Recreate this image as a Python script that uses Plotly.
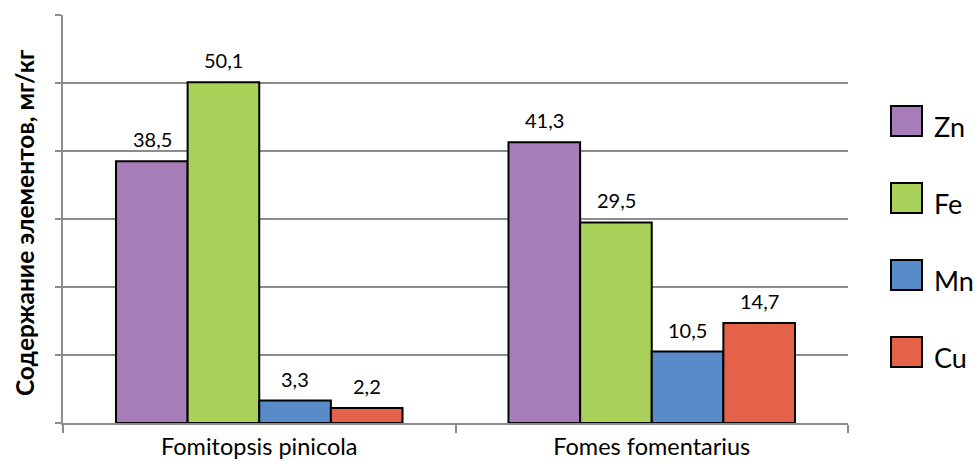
import plotly.graph_objects as go

categories = ["Fomitopsis pinicola", "Fomes fomentarius"]
series_names = ["Zn", "Fe", "Mn", "Cu"]
series_values = {
    "Zn": [38.5, 41.3],
    "Fe": [50.1, 29.5],
    "Mn": [3.3, 10.5],
    "Cu": [2.2, 14.7],
}
colors = {"Zn": "#A67DB8", "Fe": "#A9D159", "Mn": "#588BC8", "Cu": "#E5614A"}
y_title = "Содержание элементов, мг/кг"

FONT = "Lato"
GRID = "#8c8c8c"

plot_w = 785.0
plot_h = 408.0
bar_px = 71.5

fig = go.Figure()
annotations = []
n = len(series_names)
for i, name in enumerate(series_names):
    fig.add_trace(go.Bar(
        x=categories, y=series_values[name], name=name,
        marker=dict(color=colors[name], line=dict(color="black", width=2)),
        showlegend=False,
    ))
    # value labels above bars
    for cat, val in zip(categories, series_values[name]):
        annotations.append(dict(
            x=cat, y=val, xref="x", yref="y",
            text=f"{val:.1f}".replace(".", ","), showarrow=False,
            xanchor="center", yanchor="middle",
            xshift=(i - (n - 1) / 2) * bar_px, yshift=22,
            font=dict(family=FONT, size=20, color="black"),
        ))

# manual legend (large square swatches like the original)
shapes = []
for i, name in enumerate(series_names):
    yc = 0.740 - i * (77 / plot_h)
    half = 15 / plot_h
    shapes.append(dict(type="rect", xref="paper", yref="paper",
                       x0=(891 - 63) / plot_w, x1=(922 - 63) / plot_w,
                       y0=yc - half, y1=yc + half,
                       fillcolor=colors[name], line=dict(color="black", width=2)))
    annotations.append(dict(xref="paper", yref="paper", x=(932 - 63) / plot_w,
                            y=yc - 5 / plot_h,
                            text=name, showarrow=False, xanchor="left", yanchor="middle",
                            font=dict(family=FONT, size=27, color="black")))

annotations.append(dict(xref="paper", yref="paper", x=(24 - 63) / plot_w, y=0.49,
                        text="<b>" + y_title + "</b>", textangle=-90, showarrow=False,
                        xanchor="center", yanchor="middle",
                        font=dict(family=FONT, size=24.5, color="black")))

fig.update_layout(
    width=979, height=466,
    margin=dict(l=63, r=131, t=15, b=43),
    paper_bgcolor="white", plot_bgcolor="white",
    barmode="group", bargap=0.27, bargroupgap=0,
    separators=", ",
    font=dict(family=FONT, color="black"),
    shapes=shapes, annotations=annotations,
    xaxis=dict(showgrid=False, showline=True, linecolor=GRID, linewidth=2,
               ticks="outside", tickson="boundaries", ticklen=8, tickwidth=2,
               tickcolor=GRID, ticklabelstandoff=2, automargin=False,
               tickfont=dict(family=FONT, size=23.5, color="black")),
    yaxis=dict(range=[0, 60], dtick=10, showticklabels=False, automargin=False,
               showgrid=True, gridcolor=GRID, gridwidth=2,
               showline=True, linecolor=GRID, linewidth=2,
               ticks="outside", ticklen=6, tickwidth=2, tickcolor=GRID,
               zeroline=False),
    showlegend=False,
)

fig.write_html("out.html")
